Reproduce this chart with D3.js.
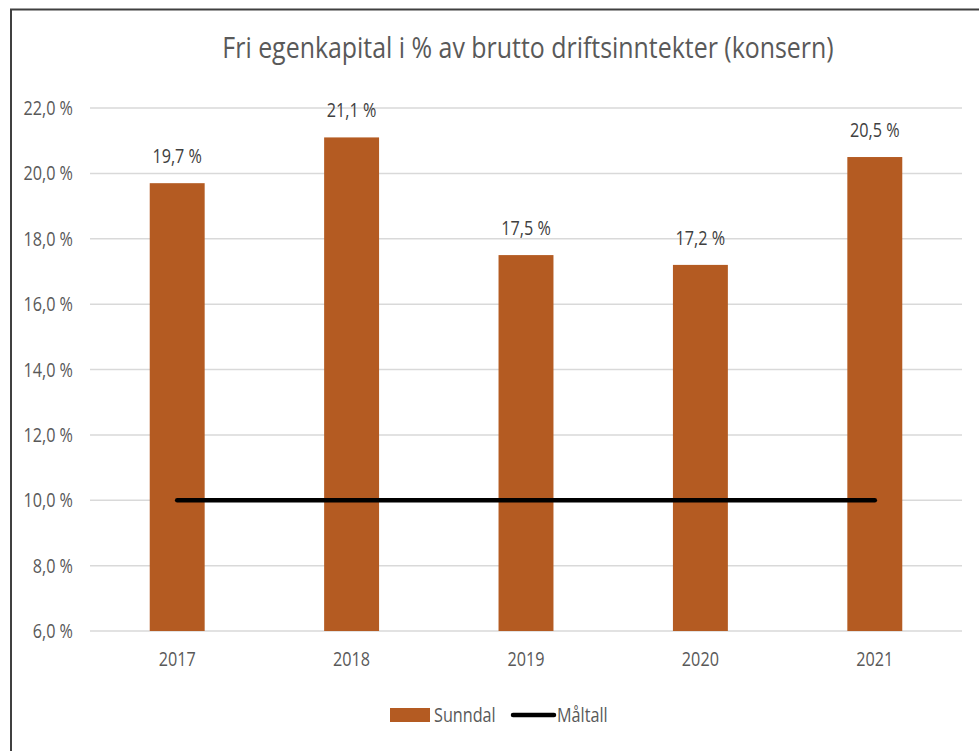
<!DOCTYPE html>
<html>
<head>
<meta charset="utf-8">
<script src="https://cdn.jsdelivr.net/npm/d3@7"></script>
<style>
  body { margin: 0; background: #fff; }
  svg { display: block; font-family: "Open Sans", sans-serif; }
</style>
</head>
<body>
<svg id="svg"></svg>
<script>
const years = ['2017', '2018', '2019', '2020', '2021'];
const sunndal = [19.7, 21.1, 17.5, 17.2, 20.5];
const maltall = [10, 10, 10, 10, 10];
const yTicks = [6, 8, 10, 12, 14, 16, 18, 20, 22];

const width = 979, height = 751;
const margin = {left: 90, right: 17};
const fmt = v => d3.format('.1f')(v).replace('.', ',') + ' %';
// the original is drawn in a narrow font, so every label gets squeezed
const squeeze = 0.81;

const svg = d3.select('#svg')
  .attr('width', width)
  .attr('height', height);

// outer frame (bottom and right fall outside the picture)
svg.append('rect')
  .attr('x', 11).attr('y', 9.5)
  .attr('width', 1000).attr('height', 800)
  .attr('fill', 'none')
  .attr('stroke', '#404040')
  .attr('stroke-width', 2);

const x = d3.scaleBand()
  .domain(years)
  .range([margin.left, width - margin.right])
  .paddingInner(0.685)
  .paddingOuter(0.3425);

const y = d3.scaleLinear()
  .domain([6, 22])
  .range([631, 108]);

svg.append('text')
  .attr('class', 'title')
  .attr('x', 528)
  .attr('y', 58)
  .attr('text-anchor', 'middle')
  .attr('font-size', 30)
  .attr('fill', '#595959')
  .text('Fri egenkapital i % av brutto driftsinntekter (konsern)');

// gridlines
svg.append('g')
  .selectAll('line')
  .data(yTicks)
  .enter()
  .append('line')
    .attr('x1', margin.left)
    .attr('x2', width - margin.right)
    .attr('y1', d => y(d))
    .attr('y2', d => y(d))
    .attr('stroke', '#d9d9d9')
    .attr('stroke-width', 1.5);

// y labels
svg.append('g')
  .selectAll('text')
  .data(yTicks)
  .enter()
  .append('text')
    .attr('x', 73)
    .attr('y', d => y(d) + 7)
    .attr('text-anchor', 'end')
    .attr('font-size', 20)
    .attr('fill', '#595959')
    .text(d => fmt(d));

// bars
svg.append('g')
  .selectAll('rect')
  .data(sunndal)
  .enter()
  .append('rect')
    .attr('x', (d, i) => x(years[i]))
    .attr('y', d => y(d))
    .attr('width', x.bandwidth())
    .attr('height', d => y(6) - y(d))
    .attr('fill', '#b45b22');

// value labels
svg.append('g')
  .selectAll('text')
  .data(sunndal)
  .enter()
  .append('text')
    .attr('x', (d, i) => x(years[i]) + x.bandwidth() / 2)
    .attr('y', d => y(d) - 20)
    .attr('text-anchor', 'middle')
    .attr('font-size', 20)
    .attr('fill', '#404040')
    .text(d => fmt(d));

// x labels
svg.append('g')
  .selectAll('text')
  .data(years)
  .enter()
  .append('text')
    .attr('x', d => x(d) + x.bandwidth() / 2)
    .attr('y', 666)
    .attr('text-anchor', 'middle')
    .attr('font-size', 20)
    .attr('fill', '#595959')
    .text(d => d);

// target line
const line = d3.line()
  .x((d, i) => x(years[i]) + x.bandwidth() / 2)
  .y(d => y(d));

svg.append('path')
  .datum(maltall)
  .attr('d', line)
  .attr('fill', 'none')
  .attr('stroke', '#000')
  .attr('stroke-width', 4.5)
  .attr('stroke-linecap', 'round');

// legend
const legend = svg.append('g').attr('transform', 'translate(0,715)');
legend.append('rect')
  .attr('x', 390).attr('y', -7)
  .attr('width', 40).attr('height', 14)
  .attr('fill', '#b45b22');
legend.append('text')
  .attr('x', 434).attr('y', 7)
  .attr('font-size', 20)
  .attr('fill', '#595959')
  .text('Sunndal');
legend.append('line')
  .attr('x1', 513).attr('x2', 554)
  .attr('y1', 0).attr('y2', 0)
  .attr('stroke', '#000')
  .attr('stroke-width', 4.5)
  .attr('stroke-linecap', 'round');
legend.append('text')
  .attr('x', 557).attr('y', 7)
  .attr('font-size', 20)
  .attr('fill', '#595959')
  .text('Måltall');

svg.selectAll('text').each(function() {
  const len = this.getComputedTextLength();
  const k = this.classList.contains('title') ? 0.83 : squeeze;
  d3.select(this)
    .attr('textLength', len * k)
    .attr('lengthAdjust', 'spacingAndGlyphs');
});
</script>
</body>
</html>
